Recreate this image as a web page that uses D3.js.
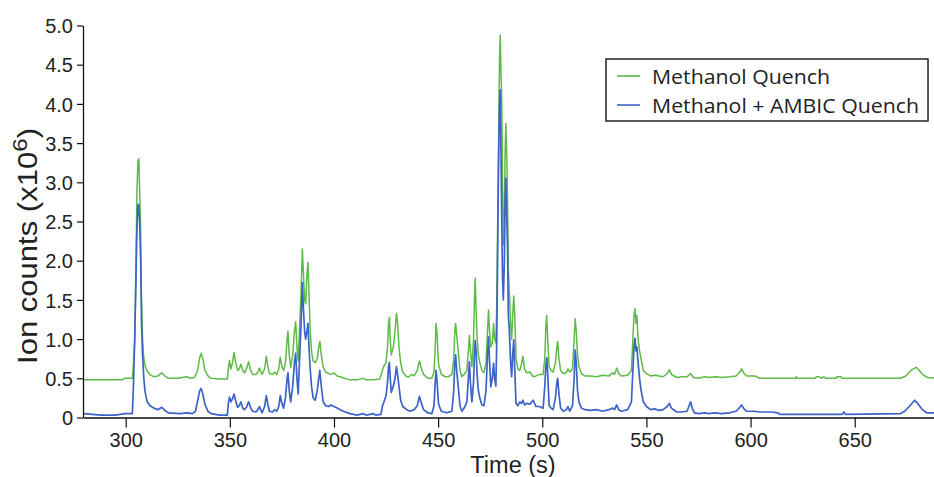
<!DOCTYPE html>
<html>
<head>
<meta charset="utf-8">
<script src="https://cdn.jsdelivr.net/npm/d3@7"></script>
<style>
    body { margin: 0; background: #fff; }
    svg { display: block; }
    .tick-label { font-family: "Liberation Sans", Arial, sans-serif; font-size: 20px; fill: #222; }
    .axis-title { font-family: "Liberation Sans", Arial, sans-serif; fill: #222; }
    .legend-text { font-family: "Open Sans", "Noto Sans", sans-serif; font-size: 20px; fill: #222; }
</style>
</head>
<body>
<div id="chart"></div>
<script>
// x ticks (s) and y ticks (x10^6 ion counts)
const xTicks = [300, 350, 400, 450, 500, 550, 600, 650];
const yTicks = [0, 0.5, 1.0, 1.5, 2.0, 2.5, 3.0, 3.5, 4.0, 4.5, 5.0];
const seriesNames = ["Methanol Quench", "Methanol + AMBIC Quench"];

// Methanol Quench trace [time, counts]
const methanol = [
    [279.5,0.48],[290,0.48],[298.5,0.48],[299.5,0.5],[303.2,0.5],[303.8,0.7],[304.4,1.0],[304.9,1.9],[305.4,2.9],[305.9,3.28],[306.3,3.3],[306.7,2.9],[307.1,2.5],[307.5,1.6],[308.1,1.0],[308.6,0.78],[309.3,0.66],[310.2,0.6],[311.5,0.55],[313.3,0.52],[315.5,0.53],[317.3,0.57],[318.8,0.53],[320.5,0.5],[325,0.5],[329.3,0.52],[331,0.5],[333,0.51],[334.5,0.6],[335.5,0.76],[336.2,0.82],[337,0.75],[338,0.6],[339.5,0.53],[341,0.5],[345,0.49],[348.8,0.49],
    [349.3,0.62],[349.8,0.73],[350.5,0.62],[351.3,0.7],[352,0.83],[352.7,0.72],[353.7,0.6],[354.5,0.62],[355.3,0.68],[356.2,0.6],[357,0.57],[358,0.62],[359,0.71],[360,0.6],[361,0.55],[362.5,0.55],[363.5,0.58],[364.2,0.63],[365.5,0.55],[366.7,0.62],[367.5,0.78],[368.3,0.65],[369,0.56],[370.5,0.55],[371.5,0.58],[372.5,0.55],[373.5,0.62],[374.2,0.77],[375,0.65],[375.8,0.6],[376.7,0.7],[377.5,1.0],[377.9,1.1],[378.5,0.8],[379.2,0.64],[380.2,0.8],[381,1.1],[381.6,1.22],[382.2,0.9],[382.8,0.72],[383.4,1.1],[384.2,1.6],[384.8,2.15],[385.3,1.85],[385.9,1.5],[386.4,1.45],[387,1.8],[387.5,1.98],[388,1.6],[388.5,1.15],[389.2,0.85],[390,0.72],[391,0.7],[392,0.75],[392.7,0.9],[393.2,0.97],[393.9,0.8],[394.8,0.64],[396,0.58],[397.5,0.56],[398.5,0.55],[400,0.57],[401.5,0.53],[403,0.52],[405,0.5],[407.7,0.48],[411,0.48],[414,0.5],[415.5,0.48],[419,0.48],[422,0.49],
    [423.2,0.6],[424,0.66],[425,0.7],[425.7,0.9],[426.2,1.2],[426.6,1.28],[427,1.0],[427.5,0.8],[428.5,0.9],[429.3,1.1],[430,1.33],[430.5,1.2],[431.2,0.9],[432,0.7],[433,0.58],[434.9,0.52],[436,0.52],[437.3,0.55],[438.5,0.53],[440,0.6],[441,0.72],[442,0.62],[443,0.55],[445,0.5],[447,0.5],[448,0.58],[448.6,0.9],[449,1.2],[449.5,1.05],[450.2,0.68],[451.5,0.55],[453.4,0.52],[455,0.52],[456.6,0.55],[457.5,0.75],[458,1.1],[458.4,1.2],[458.9,1.05],[459.8,0.8],[460.5,0.6],[461.4,0.52],[462.5,0.55],[463.8,0.6],[464.5,0.85],[465,1.05],[465.5,0.85],[466.2,0.65],[467,1.0],[467.4,1.5],[467.8,1.78],[468.2,1.4],[468.7,1.0],[469.3,0.8],[470,0.7],[471,0.6],[472,0.57],[473,0.7],[473.7,1.1],[474.2,1.37],[474.7,1.1],[475.3,0.9],[476,0.95],[476.6,1.2],[477.1,1.0],[477.7,0.95],
    [478.1,1.4],[478.5,2.3],[478.9,3.2],[479.2,4.0],[479.5,4.6],[479.8,4.88],[480.1,4.5],[480.5,4.1],[480.9,3.0],[481.3,2.2],[481.8,2.6],[482.1,3.3],[482.5,3.75],[482.9,3.4],[483.3,2.8],[483.7,1.9],[484.2,1.6],[484.8,1.2],[485.3,1.0],[485.8,1.3],[486.3,1.55],[486.8,1.3],[487.4,0.75],[488.3,0.62],[489.2,0.6],[490,0.68],[490.7,0.78],[491.5,0.62],[492.5,0.57],[494,0.58],[495.6,0.52],[497,0.53],[498.5,0.55],[500.4,0.55],[501.2,0.75],[501.7,1.15],[502.1,1.3],[502.6,1.0],[503.3,0.65],[504.2,0.6],[505.2,0.58],[506.3,0.7],[507,0.9],[507.4,0.97],[508,0.75],[508.8,0.6],[510,0.56],[511.6,0.57],[512.3,0.62],[513.2,0.58],[514.5,0.62],[515.3,1.0],[515.8,1.26],[516.3,1.1],[516.9,0.8],[517.6,0.65],[518.8,0.56],[520.5,0.53],[523,0.53],[526,0.52],[529,0.54],[532,0.53],[533.8,0.57],[534.7,0.55],[535.7,0.63],[536.7,0.56],[538,0.53],[541,0.54],
    [542.8,0.6],[543.5,1.0],[544,1.3],[544.5,1.39],[545,1.2],[545.4,1.3],[546,1.0],[546.7,0.85],[547.4,0.75],[548.5,0.6],[550,0.56],[552,0.53],[554,0.54],[556,0.53],[558,0.52],[560,0.56],[561,0.61],[562,0.55],[564.5,0.51],[567,0.52],[569.5,0.52],[571.2,0.56],[572.5,0.51],[575,0.5],[578,0.52],[580,0.51],[583,0.52],[586,0.51],[590,0.52],[593,0.53],[594.8,0.58],[595.7,0.62],[596.6,0.57],[598,0.53],[602,0.53],[604.4,0.5],[610,0.5],[621.5,0.5],[622,0.52],[622.5,0.5],[631,0.5],[631.6,0.52],[633,0.52],[634,0.5],[635.2,0.52],[636,0.5],[641,0.5],[641.5,0.52],[643.4,0.52],[644,0.5],[672,0.5],[674.5,0.53],[677,0.6],[679.4,0.64],[681,0.6],[683,0.54],[685,0.51],[690,0.5]
];

// Methanol + AMBIC Quench trace [time, counts]
const ambic = [
    [279.5,0.05],[284,0.04],[288,0.03],[295,0.03],[299.5,0.05],[303.2,0.05],[303.7,0.4],[304.3,1.0],[304.8,1.6],[305.3,2.3],[305.8,2.7],[306.2,2.72],[306.7,2.5],[307.2,2.0],[307.6,1.2],[308.1,0.8],[308.7,0.5],[309.3,0.33],[310.3,0.2],[311.7,0.15],[313.5,0.12],[315.5,0.1],[317.3,0.13],[318.8,0.09],[320.5,0.06],[326,0.05],[329.5,0.06],[332,0.05],[333.5,0.08],[334.6,0.22],[335.5,0.34],[336.2,0.37],[337,0.3],[338,0.17],[339.5,0.08],[341,0.05],[345,0.03],[348.8,0.03],
    [349.3,0.18],[349.8,0.26],[350.5,0.2],[351.3,0.24],[352,0.3],[352.7,0.22],[353.7,0.13],[354.5,0.15],[355.3,0.2],[356.2,0.12],[357,0.1],[358,0.13],[359,0.2],[360,0.12],[361,0.08],[362.5,0.07],[363.5,0.1],[364.2,0.14],[365.5,0.06],[366.7,0.14],[367.5,0.28],[368.3,0.16],[369,0.08],[370.5,0.07],[371.5,0.1],[372.5,0.08],[373.5,0.14],[374.2,0.28],[375,0.18],[375.8,0.12],[376.7,0.25],[377.5,0.5],[377.9,0.57],[378.5,0.35],[379.2,0.2],[380.2,0.4],[381,0.7],[381.6,0.82],[382.2,0.5],[382.8,0.3],[383.4,0.7],[384.2,1.2],[384.8,1.72],[385.3,1.4],[385.9,1.1],[386.4,1.0],[387,1.1],[387.5,1.2],[388,0.9],[388.5,0.65],[389.2,0.4],[390,0.25],[391,0.22],[392,0.35],[392.7,0.5],[393.2,0.6],[393.9,0.4],[394.8,0.2],[396,0.15],[397.5,0.14],[398.5,0.16],[400,0.14],[401.5,0.12],[403,0.1],[404.5,0.08],[407.7,0.05],[411,0.03],[414,0.05],[415.5,0.03],[419,0.05],[420,0.03],[422.5,0.04],
    [423.3,0.15],[424,0.2],[425,0.28],[425.7,0.45],[426.2,0.65],[426.6,0.7],[427,0.5],[427.5,0.32],[428.5,0.4],[429.3,0.5],[430,0.65],[430.5,0.55],[431.2,0.4],[432,0.22],[433,0.14],[434.9,0.1],[436.5,0.08],[438.5,0.1],[440,0.15],[441,0.27],[442,0.18],[443,0.1],[445,0.06],[447,0.05],[448,0.15],[448.6,0.45],[449,0.6],[449.5,0.45],[450.2,0.17],[451.5,0.08],[454.2,0.06],[456.6,0.08],[457.5,0.35],[458,0.7],[458.4,0.8],[458.9,0.6],[459.8,0.35],[460.5,0.15],[461.4,0.08],[462.5,0.12],[463.8,0.2],[464.5,0.5],[465,0.71],[465.5,0.45],[466.2,0.2],[467,0.45],[467.4,0.8],[467.8,0.98],[468.2,0.85],[468.7,0.55],[469.3,0.35],[470,0.25],[471,0.16],[472,0.15],[473,0.35],[473.7,0.8],[474.2,1.03],[474.7,0.7],[475.3,0.39],[476,0.5],[476.6,0.69],[477.1,0.5],[477.7,0.4],
    [478.1,0.9],[478.5,1.9],[478.9,3.0],[479.2,3.6],[479.5,4.0],[479.8,4.18],[480.1,3.6],[480.5,2.6],[480.9,1.8],[481.3,1.5],[481.8,2.0],[482.1,2.7],[482.5,3.05],[482.9,2.6],[483.3,2.2],[483.7,1.3],[484.2,1.1],[484.8,0.7],[485.3,0.52],[485.8,0.8],[486.3,0.99],[486.8,0.6],[487.4,0.18],[488.3,0.15],[489.2,0.2],[490,0.18],[490.7,0.22],[491.5,0.16],[492.5,0.18],[494,0.17],[495.6,0.22],[497,0.14],[498.5,0.14],[500.4,0.12],[501.2,0.4],[501.7,0.65],[502.2,0.76],[502.7,0.5],[503.3,0.15],[504.2,0.12],[505.2,0.1],[506.3,0.25],[507,0.45],[507.4,0.5],[508,0.3],[508.8,0.12],[510,0.08],[511.6,0.1],[512.3,0.14],[513.2,0.08],[514.5,0.15],[515.3,0.5],[515.8,0.86],[516.3,0.7],[516.9,0.35],[517.6,0.2],[518.8,0.12],[520.5,0.1],[523,0.09],[526,0.1],[529,0.08],[532,0.1],[533.8,0.12],[534.7,0.1],[535.7,0.16],[536.7,0.1],[538,0.08],[541,0.1],
    [542.8,0.2],[543.5,0.6],[544,0.9],[544.5,1.01],[545,0.85],[545.4,0.9],[546,0.7],[546.7,0.5],[547.4,0.35],[548.5,0.2],[550,0.14],[552,0.1],[554,0.11],[556,0.09],[558,0.1],[560,0.14],[561,0.18],[562,0.12],[564.5,0.07],[567,0.07],[569.5,0.08],[570.5,0.15],[571.2,0.2],[572,0.12],[573,0.06],[575,0.05],[578,0.06],[580,0.05],[583,0.06],[586,0.05],[590,0.06],[593,0.08],[594.8,0.13],[595.7,0.16],[596.6,0.12],[598,0.08],[602,0.08],[604.4,0.07],[610,0.07],[613.2,0.06],[614,0.04],[630,0.04],[644,0.04],[644.8,0.07],[645.5,0.04],[672,0.05],[674,0.08],[676.5,0.15],[678.8,0.22],[680.5,0.17],[682.5,0.1],[684.5,0.06],[690,0.06]
];

const colors = ["#5dbb46", "#3d62c8"];

const width = 934, height = 477;
const margin = { left: 83, right: -3, top: 25.5, bottom: 59.5 };

const svg = d3.select("#chart").append("svg")
    .attr("width", width)
    .attr("height", height);

const x = d3.scaleLinear()
    .domain([279.5, 689.5])
    .range([margin.left, width - margin.right]);

const y = d3.scaleLinear()
    .domain([0, 5])
    .range([height - margin.bottom, margin.top]);

svg.append("clipPath").attr("id", "plot-clip")
    .append("rect")
    .attr("x", margin.left).attr("y", 0)
    .attr("width", width - margin.left).attr("height", height - margin.bottom);

// traces: green first, blue on top
const line = d3.line()
    .x(d => x(d[0]))
    .y(d => y(d[1]));

const plot = svg.append("g").attr("clip-path", "url(#plot-clip)");

[methanol, ambic].forEach((series, i) => {
    plot.append("path")
        .datum(series)
        .attr("fill", "none")
        .attr("stroke", colors[i])
        .attr("stroke-width", i === 0 ? 1.5 : 1.7)
        .attr("stroke-linejoin", "round")
        .attr("d", line);
});

// X axis
const xAxis = svg.append("g")
    .attr("transform", `translate(0,${y(0)})`)
    .call(d3.axisBottom(x).tickValues(xTicks).tickSize(10).tickSizeOuter(0).tickFormat(d3.format("d")));

xAxis.select(".domain").attr("stroke", "#111").attr("stroke-width", 1.3);
xAxis.selectAll(".tick line").attr("stroke", "#111").attr("stroke-width", 1.2);
xAxis.selectAll(".tick text")
    .attr("class", "tick-label")
    .attr("y", 29)
    .attr("dy", 0);

// Y axis
const yAxis = svg.append("g")
    .attr("transform", `translate(${margin.left},0)`)
    .call(d3.axisLeft(y).tickValues(yTicks).tickSize(6).tickSizeOuter(0)
        .tickFormat(d => d === 0 ? "0" : d3.format(".1f")(d)));

yAxis.select(".domain").attr("stroke", "#111").attr("stroke-width", 1.3);
yAxis.selectAll(".tick line").attr("stroke", "#111").attr("stroke-width", 1.2);
yAxis.selectAll(".tick text")
    .attr("class", "tick-label")
    .attr("x", -10)
    .attr("dy", "0.36em");

// Axis titles
svg.append("text")
    .attr("class", "axis-title")
    .attr("x", 513)
    .attr("y", 473)
    .attr("text-anchor", "middle")
    .style("font-size", "23.5px")
    .text("Time (s)");

const yTitle = svg.append("text")
    .attr("class", "axis-title")
    .attr("transform", "translate(37,246) rotate(-90)")
    .attr("text-anchor", "middle")
    .attr("textLength", 236)
    .attr("lengthAdjust", "spacingAndGlyphs")
    .style("font-size", "27px");
yTitle.append("tspan").text("Ion counts (x10");
yTitle.append("tspan").attr("dy", -10).style("font-size", "21px").text("6");
yTitle.append("tspan").attr("dy", 10).text(")");

// Legend
const legend = svg.append("g");
legend.append("rect")
    .attr("x", 606).attr("y", 59)
    .attr("width", 322).attr("height", 62)
    .attr("fill", "#fff")
    .attr("stroke", "#222")
    .attr("stroke-width", 1.5);

const legendRows = [76, 105];
seriesNames.forEach((name, i) => {
    legend.append("line")
        .attr("x1", 617).attr("x2", 640)
        .attr("y1", legendRows[i]).attr("y2", legendRows[i])
        .attr("stroke", colors[i])
        .attr("stroke-width", 1.6);
    legend.append("text")
        .attr("class", "legend-text")
        .attr("x", 652)
        .attr("y", legendRows[i] + 8)
        .attr("textLength", i === 0 ? 178 : 267)
        .attr("lengthAdjust", "spacingAndGlyphs")
        .text(name);
});
</script>
</body>
</html>
